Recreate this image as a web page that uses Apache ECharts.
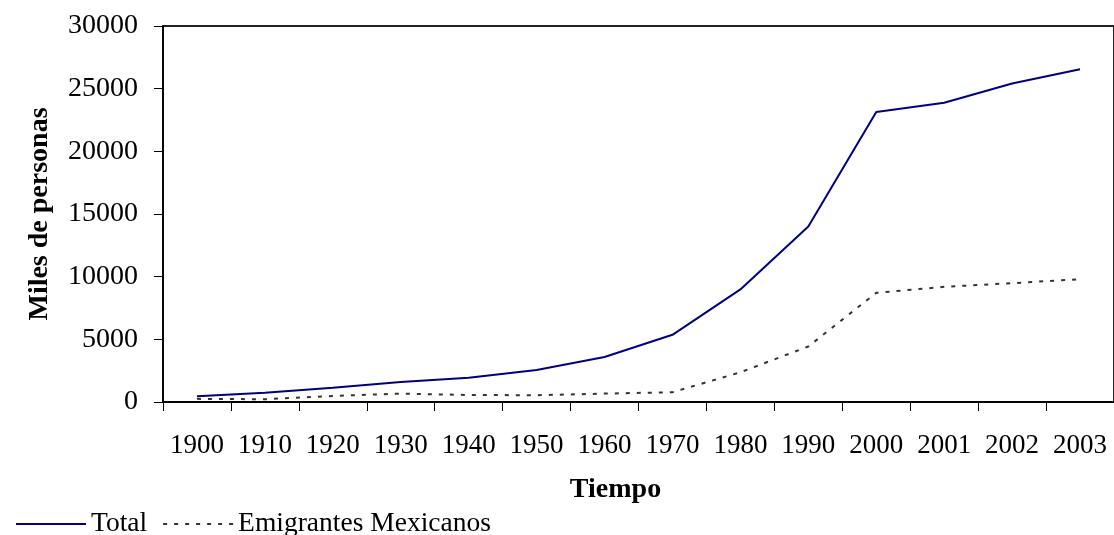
<!DOCTYPE html>
<html>
<head>
<meta charset="utf-8">
<script src="https://cdn.jsdelivr.net/npm/echarts@6/dist/echarts.min.js"></script>
<style>
html,body{margin:0;padding:0;background:#fff;}
#chart{width:1114px;height:535px;}
</style>
</head>
<body>
<div id="chart"></div>
<script>
var categories = ['1900','1910','1920','1930','1940','1950','1960','1970','1980','1990','2000','2001','2002','2003'];
var totalValues = [450, 730, 1130, 1600, 1940, 2560, 3590, 5360, 8980, 14000, 23130, 23870, 25410, 26550];
var mexicanValues = [250, 220, 480, 670, 560, 540, 670, 780, 2370, 4430, 8710, 9190, 9480, 9800];
var yTicks = { min: 0, max: 30000, interval: 5000 };

var FONT = "'Liberation Serif', 'Times New Roman', serif";
var chart = echarts.init(document.getElementById('chart'), null, { renderer: 'canvas' });
chart.setOption({
  backgroundColor: '#ffffff',
  animation: false,
  textStyle: { fontFamily: FONT, color: '#000' },
  grid: {
    left: 163, top: 26, width: 954, height: 376,
    show: true, borderColor: '#222', borderWidth: 2, containLabel: false
  },
  legend: {
    left: 10, top: 505,
    itemWidth: 70, itemHeight: 14, itemGap: 15,
    itemStyle: { opacity: 0 },
    textStyle: { fontFamily: FONT, fontSize: 27.5, color: '#000' },
    data: ['Total', 'Emigrantes Mexicanos']
  },
  xAxis: {
    type: 'category',
    data: categories,
    boundaryGap: true,
    name: 'Tiempo',
    nameLocation: 'middle',
    nameGap: 74,
    nameTextStyle: { fontFamily: FONT, fontSize: 28, fontWeight: 'bold', color: '#000', padding: [0, 46, 0, 0] },
    axisLine: { lineStyle: { color: '#000', width: 2 } },
    axisTick: { show: true, alignWithLabel: false, length: 9, lineStyle: { color: '#000', width: 1 } },
    axisLabel: { fontFamily: FONT, fontSize: 27, color: '#000', margin: 30, interval: 0 },
    splitLine: { show: false }
  },
  yAxis: {
    type: 'value',
    min: yTicks.min, max: yTicks.max, interval: yTicks.interval,
    name: 'Miles de personas',
    nameLocation: 'middle',
    nameGap: 109,
    nameRotate: 90,
    nameTextStyle: { fontFamily: FONT, fontSize: 28, fontWeight: 'bold', color: '#000' },
    axisLine: { show: true, lineStyle: { color: '#000', width: 1.5 } },
    axisTick: { show: true, length: 9, lineStyle: { color: '#000', width: 1 } },
    axisLabel: { fontFamily: FONT, fontSize: 28, color: '#000', margin: 25, formatter: function (v) { return String(v); } },
    splitLine: { show: false }
  },
  series: [
    {
      name: 'Total',
      type: 'line',
      data: totalValues,
      symbol: 'none',
      lineStyle: { color: '#000080', width: 2 },
      itemStyle: { color: '#000080' }
    },
    {
      name: 'Emigrantes Mexicanos',
      type: 'line',
      data: mexicanValues,
      symbol: 'none',
      lineStyle: { color: '#333333', width: 2, type: [4, 7] },
      itemStyle: { color: '#333333' }
    }
  ]
});
</script>
</body>
</html>
